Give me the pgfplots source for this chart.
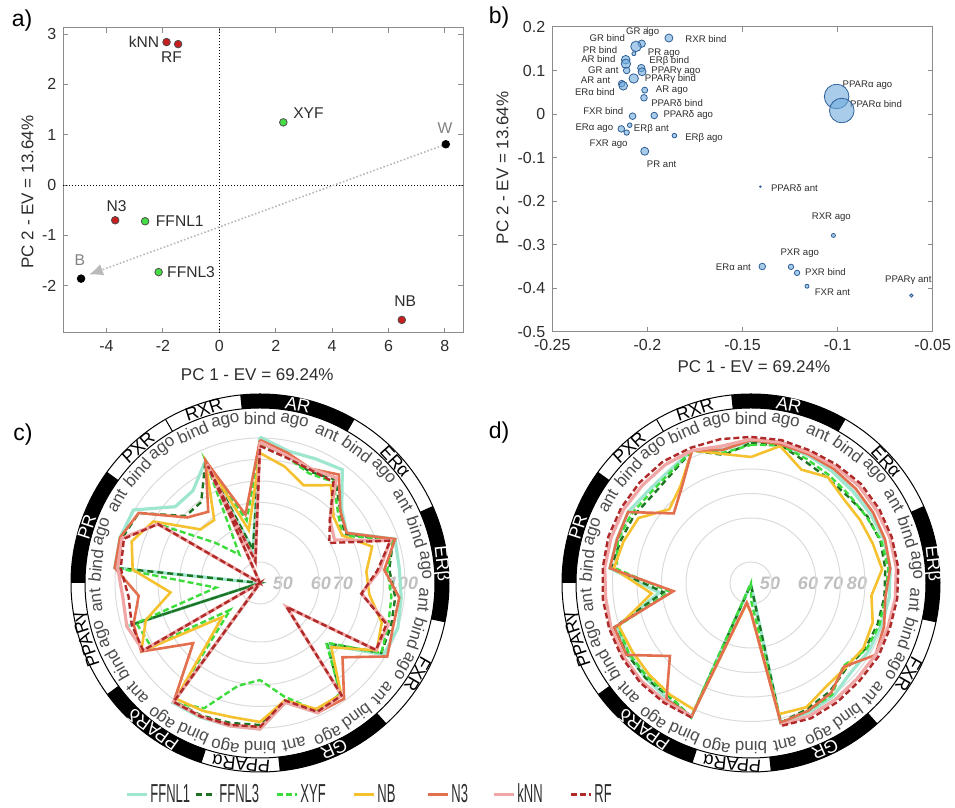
\documentclass[border=0pt]{standalone}
\usepackage{fontspec}
\setmainfont{Liberation Sans}
\usepackage{graphicx}
\usepackage{pgfplots}
\usepackage{pgfplotstable}
\pgfplotsset{compat=1.18}
\usepgfplotslibrary{polar}
\usetikzlibrary{arrows.meta}

\definecolor{cF1}{RGB}{158,230,207}
\definecolor{cF3}{RGB}{30,115,35}
\definecolor{cXY}{RGB}{60,220,60}
\definecolor{cNB}{RGB}{245,193,46}
\definecolor{cN3}{RGB}{226,112,78}
\definecolor{ckN}{RGB}{242,167,167}
\definecolor{cRF}{RGB}{176,42,42}
\definecolor{axgray}{RGB}{140,140,140}
\definecolor{txt}{RGB}{45,45,45}
\definecolor{bubfill}{RGB}{110,170,220}
\definecolor{bubedge}{RGB}{45,95,150}
\definecolor{ptred}{RGB}{200,30,30}
\definecolor{ptgreen}{RGB}{70,220,70}

\pgfplotstableread{
i F1 F3 XY NB N3 kN RF
0 100.5 97.7 96.7 93.0 99.1 98.1 96.3
1 95.3 93.0 92.6 87.9 94.4 93.0 92.1
2 95.8 89.3 88.4 82.3 90.7 90.7 90.2
3 97.7 92.1 90.7 88.8 94.9 93.0 90.7
4 83.7 82.8 81.4 78.6 82.8 76.3 76.3
5 79.1 78.1 76.7 76.7 79.1 72.6 69.8
6 98.6 97.7 97.7 87.4 98.6 96.3 96.3
7 97.7 93.0 92.1 82.3 90.7 88.4 87.4
8 98.6 95.8 94.0 83.7 97.7 80.0 80.0
9 100.0 96.7 95.3 92.1 97.7 95.3 94.4
10 99.1 97.7 97.7 95.3 100.9 94.9 94.9
11 75.8 74.4 74.0 77.2 84.2 53.9 53.9
12 96.3 96.3 96.3 96.7 99.1 97.2 97.2
13 98.6 97.7 97.7 96.7 98.6 98.6 98.1
14 89.3 88.4 86.5 88.4 89.3 89.3 88.4
15 100.5 98.6 77.7 97.2 100.0 100.5 99.5
16 100.5 99.1 81.4 96.3 100.0 100.5 100.0
17 100.9 100.0 96.3 97.7 100.5 100.5 100.5
18 101.4 100.5 101.4 99.1 100.9 100.9 100.9
19 40 40 55.0 57.9 74.4 40 40
20 40 40 91.2 96.3 96.3 95.3 95.3
21 97.7 94.4 93.0 88.4 94.4 97.7 95.3
22 40 40 56.1 74.4 89.3 96.7 94.0
23 100.5 100.0 100.0 92.1 100.5 99.1 97.7
24 101.0 100.0 100.0 95.3 101.0 100.0 99.1
25 100.5 97.7 87.4 89.8 97.7 87.4 87.4
26 85.6 79.1 60.5 69.8 78.1 40 40
27 85.6 79.1 53.7 68.8 73.5 40 40
28 94.9 94.9 94.9 94.9 94.9 93.0 92.1
29 53.4 53.4 62.3 58.7 65.1 50.3 50.3
30 100.5 97.7 96.7 93.0 99.1 98.1 96.3
}\radarc

\pgfplotstableread{
i F1 F3 XY NB N3
0 91.4 90.6 89.8 84.9 91.8
1 91.4 91.0 91.0 90.6 91.4
2 90.6 87.8 89.0 84.1 91.0
3 89.8 86.5 87.8 86.9 91.0
4 89.4 86.5 87.3 84.5 91.0
5 89.8 88.2 87.8 84.9 91.0
6 90.6 89.0 89.4 85.7 91.0
7 90.6 88.6 89.8 87.3 90.6
8 90.2 88.2 88.6 82.9 88.6
9 89.4 87.8 88.6 85.7 90.6
10 89.0 87.3 87.8 86.5 92.2
11 88.2 85.7 84.1 85.3 84.5
12 90.6 88.2 89.8 85.7 89.0
13 91.4 89.8 90.6 89.0 90.6
14 91.8 91.8 91.8 88.2 91.8
15 45.7 45.7 49.1 52.0 52.0
16 45.7 45.7 45.0 50.0 49.8
17 93.1 93.5 93.5 90.2 93.1
18 91.8 90.6 90.2 89.8 92.2
19 91.4 91.4 90.6 89.4 78.0
20 91.4 91.8 91.0 89.4 92.2
21 91.0 92.2 90.6 90.2 92.2
22 71.0 69.4 66.9 74.3 65.3
23 91.4 91.0 88.6 89.8 91.4
24 91.0 89.4 90.6 88.2 91.0
25 91.4 88.6 89.8 86.5 91.4
26 89.8 87.3 88.6 78.4 75.9
27 90.2 88.6 89.4 82.4 81.6
28 92.7 92.7 92.7 92.7 92.7
29 89.0 86.9 87.8 87.3 89.0
30 91.4 90.6 89.8 84.9 91.8
}\radard

% kNN and RF in panel d: no values for PPARalpha (i = 15, 16); path runs from i = 17 round to i = 14 (+30)
\pgfplotstableread{
i kN RF
17 93.1 93.5
18 93.1 93.9
19 93.5 94.3
20 93.5 94.3
21 93.5 94.3
22 93.1 94.3
23 93.5 94.3
24 93.5 94.7
25 93.5 94.7
26 93.1 94.7
27 93.1 94.7
28 92.7 93.9
29 90.6 93.5
30 92.2 93.1
31 92.2 93.1
32 91.8 92.7
33 92.2 93.1
34 92.7 93.9
35 92.7 93.9
36 93.1 93.9
37 93.1 93.9
38 92.7 93.5
39 92.2 93.1
40 92.2 93.5
41 91.8 93.1
42 92.2 93.5
43 92.7 93.9
44 92.7 93.1
}\radardo

\pgfplotstableread{
x y
-1.87 2.84
-1.46 2.80
-3.69 -0.70
6.47 -2.68
}\ptred
\pgfplotstableread{
x y
2.27 1.245
-2.63 -0.72
-2.15 -1.73
}\ptgreen
\pgfplotstableread{
x y
8.03 0.81
-4.90 -1.86
}\ptblack

\pgfplotstableread{
x y r
-0.1887 0.1747 4.0
-0.2030 0.1617 3.7
-0.2060 0.1555 5.3
-0.2071 0.1387 2.0
-0.2114 0.1249 4.3
-0.2113 0.1157 4.7
-0.2109 0.1003 3.3
-0.2032 0.1057 3.7
-0.2028 0.0973 4.0
-0.2072 0.0819 4.7
-0.2135 0.0700 3.3
-0.2127 0.0651 4.3
-0.2014 0.0551 3.0
-0.2018 0.0375 3.3
-0.2078 -0.0047 3.3
-0.1964 -0.0032 3.3
-0.2093 -0.0254 2.3
-0.2137 -0.0338 3.3
-0.2109 -0.0423 2.7
-0.1858 -0.0492 2.3
-0.2014 -0.0852 4.0
-0.1005 0.0405 12.3
-0.0978 0.0083 12.3
-0.1406 -0.1665 0.8
-0.1022 -0.2784 2.0
-0.1396 -0.3497 3.3
-0.1245 -0.3505 2.7
-0.1213 -0.3643 2.7
-0.1161 -0.3950 2.0
-0.0612 -0.4164 1.7
}\bubbles

\newcommand\legtxt[2]{\makebox[#1][l]{\scalebox{0.5}[1]{\fontsize{13}{13}\selectfont #2}}}

\newcommand\radarframe{%
  \foreach \sa/\sb in {96/60,24/-12,-48/-84,-108/-144,-180/-216}{%
    \fill[black] (\sa:87.5pt) arc[start angle=\sa,end angle=\sb,radius=87.5pt] -- (\sb:94.5pt) arc[start angle=\sb,end angle=\sa,radius=94.5pt] -- cycle;}
  \draw[line width=0.5pt] (0,0) circle[radius=87.5pt];
  \draw[line width=0.5pt] (0,0) circle[radius=94.5pt];
  \draw[line width=0.5pt] (120:87.5pt) -- (120:94.5pt);
  \foreach \lab [count=\k from 0] in {bind,ago,ant,bind,ago,ant,bind,ago,ant,bind,ago,ant,bind,ago,ant,bind,ago,bind,ago,ant,bind,ago,ant,bind,ago,ant,bind,ago,bind,ago}{%
    \node[font=\fontsize{8.5}{8.5}\selectfont, text=black!70, rotate={-12*\k}, inner sep=0pt] at ({90-12*\k}:82.5pt) {\lab};}
  \foreach \nm/\gt/\gc in {AR/12/white, ERα/48/black, ERβ/84/white, FXR/120/black, GR/156/white, PPARα/186/black, PPARδ/216/white, PPARγ/252/black, PR/288/white, PXR/318/black, RXR/342/black}{%
    \node[font=\fontsize{9}{9}\selectfont, text=\gc, rotate={-\gt}, inner sep=0pt] at ({90-\gt}:91pt) {\nm};}
}

\pgfplotsset{
  pcaaxis/.style={scale only axis, axis line style={axgray, line width=0.5pt},
    tick style={axgray, line width=0.5pt}, tick align=inside, major tick length=2.5pt,
    tick label style={font=\fontsize{8}{9}\selectfont, text=txt},
    label style={font=\fontsize{8.5}{10}\selectfont, text=txt},
    /pgf/number format/assume math mode=true, clip=false},
  radar/.style={scale only axis, width=188pt, height=188pt, ymin=0, ymax=188,
    xtick=\empty, yticklabels={}, ymajorgrids, major grid style={gray!28, line width=0.5pt},
    axis line style={draw=none}, major tick length=0pt,
    x filter/.expression={90-12*x}, clip=false},
}
\tikzset{
  blab/.style={font=\fontsize{4.8}{5}\selectfont, text=txt, inner sep=0pt},
  alab/.style={font=\fontsize{7.8}{8}\selectfont, text=txt, inner sep=0pt},
  radlab/.style={font=\fontsize{9}{9}\selectfont\bfseries\itshape, text=gray!50, inner sep=0pt},
}

\begin{document}
\begin{tikzpicture}[x=0.5pt,y=0.5pt]
\useasboundingbox (0,0) rectangle (955,808);

\node[font=\fontsize{11.5}{12}\selectfont] at (22,787) {a)};
\node[font=\fontsize{11.5}{12}\selectfont] at (499,790) {b)};
\node[font=\fontsize{11.5}{12}\selectfont] at (23,373) {c)};
\node[font=\fontsize{11.5}{12}\selectfont] at (499,375) {d)};

% ---------------- panel a
\begin{axis}[pcaaxis, at={(31.65pt,237.5pt)}, anchor=south west, width=200pt, height=152.5pt,
  xmin=-5.53, xmax=8.65, ymin=-2.94, ymax=3.12,
  xtick={-4,-2,0,2,4,6,8}, ytick={-2,-1,0,1,2,3},
  xlabel={PC 1 - EV = 69.24\%}, ylabel={PC 2 - EV = 13.64\%},
  xlabel style={at={(axis description cs:0.485,-0.138)}, anchor=center},
  ylabel style={at={(axis description cs:-0.0895,0.462)}, anchor=center},
]
\addplot[black, densely dotted, line width=0.5pt] coordinates {(0,-2.94) (0,3.12)};
\addplot[black, densely dotted, line width=0.5pt] coordinates {(-5.53,0) (8.65,0)};
\addplot[gray!55, densely dotted, line width=0.8pt, -{Latex[length=7pt,width=6pt]}] coordinates {(8.03,0.81) (-4.62,-1.78)};
\addplot[only marks, mark=*, mark size=1.9pt, mark options={fill=ptred, draw=black!70, line width=0.4pt}] table {\ptred};
\addplot[only marks, mark=*, mark size=1.9pt, mark options={fill=ptgreen, draw=black!70, line width=0.4pt}] table {\ptgreen};
\addplot[only marks, mark=*, mark size=1.9pt, mark options={fill=black, draw=black, line width=0.4pt}] table {\ptblack};
\node[alab] at (axis cs:-2.67,2.84) {kNN};
\node[alab] at (axis cs:-1.69,2.54) {RF};
\node[alab] at (axis cs:3.16,1.42) {XYF};
\node[alab, text=gray] at (axis cs:8.0,1.13) {W};
\node[alab] at (axis cs:-3.64,-0.42) {N3};
\node[alab] at (axis cs:-1.40,-0.71) {FFNL1};
\node[alab, text=gray] at (axis cs:-4.94,-1.485) {B};
\node[alab] at (axis cs:-1.0,-1.74) {FFNL3};
\node[alab] at (axis cs:6.59,-2.31) {NB};
\end{axis}

% ---------------- panel b
\begin{axis}[pcaaxis, at={(276.15pt,238pt)}, anchor=south west, width=190.2pt, height=152.5pt,
  xmin=-0.25, xmax=-0.05, ymin=-0.5, ymax=0.2,
  xtick={-0.25,-0.2,-0.15,-0.1,-0.05}, xticklabels={-0.25,-0.2,-0.15,-0.1,-0.05},
  ytick={-0.5,-0.4,-0.3,-0.2,-0.1,0,0.1,0.2}, yticklabels={-0.5,-0.4,-0.3,-0.2,-0.1,0,0.1,0.2},
  xlabel={PC 1 - EV = 69.24\%}, ylabel={PC 2 - EV = 13.64\%},
  xlabel style={at={(axis description cs:0.53,-0.115)}, anchor=center},
  ylabel style={at={(axis description cs:-0.131,0.538)}, anchor=center},
]
\addplot[scatter, only marks, mark=*, fill opacity=0.6, line width=0.4pt,
  scatter/use mapped color={draw=bubedge, fill=bubfill},
  visualization depends on={0.5*\thisrow{r} \as \rr},
  scatter/@pre marker code/.append style={/tikz/mark size=\rr}]
  table[x=x,y=y] {\bubbles};
\node[blab] at (axis cs:-0.2211,0.1747) {GR bind};
\node[blab] at (axis cs:-0.2025,0.1885) {GR ago};
\node[blab] at (axis cs:-0.1692,0.1732) {RXR bind};
\node[blab] at (axis cs:-0.2249,0.1463) {PR bind};
\node[blab] at (axis cs:-0.1913,0.1402) {PR ago};
\node[blab] at (axis cs:-0.2258,0.1264) {AR bind};
\node[blab] at (axis cs:-0.1885,0.1210) {ERβ bind};
\node[blab] at (axis cs:-0.2232,0.1003) {GR ant};
\node[blab] at (axis cs:-0.1850,0.0996) {PPARγ ago};
\node[blab] at (axis cs:-0.1879,0.0804) {PPARγ bind};
\node[blab] at (axis cs:-0.2272,0.0789) {AR ant};
\node[blab] at (axis cs:-0.2276,0.0505) {ERα bind};
\node[blab] at (axis cs:-0.1871,0.0543) {AR ago};
\node[blab] at (axis cs:-0.1844,0.0260) {PPARδ bind};
\node[blab] at (axis cs:-0.2232,0.0060) {FXR bind};
\node[blab] at (axis cs:-0.1785,-0.0016) {PPARδ ago};
\node[blab] at (axis cs:-0.2279,-0.0315) {ERα ago};
\node[blab] at (axis cs:-0.1979,-0.0346) {ERβ ant};
\node[blab] at (axis cs:-0.1702,-0.0538) {ERβ ago};
\node[blab] at (axis cs:-0.2204,-0.0699) {FXR ago};
\node[blab] at (axis cs:-0.1925,-0.1151) {PR ant};
\node[blab] at (axis cs:-0.0843,0.0666) {PPARα ago};
\node[blab] at (axis cs:-0.0798,0.0237) {PPARα bind};
\node[blab] at (axis cs:-0.1227,-0.1688) {PPARδ ant};
\node[blab] at (axis cs:-0.1033,-0.2370) {RXR ago};
\node[blab] at (axis cs:-0.1199,-0.3191) {PXR ago};
\node[blab] at (axis cs:-0.1064,-0.3635) {PXR bind};
\node[blab] at (axis cs:-0.1548,-0.3505) {ERα ant};
\node[blab] at (axis cs:-0.1027,-0.4095) {FXR ant};
\node[blab] at (axis cs:-0.0628,-0.3812) {PPARγ ant};
\end{axis}

% ---------------- panel c
\begin{scope}[shift={(260,225)}]
\radarframe
\end{scope}
\node[radlab] at (283,225) {50};
\node[radlab] at (321,225) {60};
\node[radlab] at (343,225) {70};
\node[radlab] at (403,225) {100};
\begin{polaraxis}[radar, at={(130pt,112.5pt)}, anchor=origin,
  ytick={21,59,80.5,102,123.5,145},
  y filter/.expression={ifthenelse(y<60, max(21+(y-50)*3.8,0), 59+(y-60)*2.15)},
  legend style={at={(axis description cs:0.141,-0.0638)}, anchor=west, draw=none, fill=none,
    inner sep=0pt, legend columns=7, text=txt, nodes={inner sep=1pt},
    /tikz/every even column/.append style={column sep=0pt}},
  legend image code/.code={\draw[#1, line width=1.5pt] (0pt,0pt) -- (10pt,0pt);},
]
\addplot[mark=none, cF1, line width=1.6pt] table[x=i,y=F1]{\radarc};
\addlegendentry{\legtxt{21pt}{FFNL1}}
\addplot[mark=none, cF3, line width=1.2pt, dash pattern=on 3pt off 2pt] table[x=i,y=F3]{\radarc};
\addlegendentry{\legtxt{27pt}{FFNL3}}
\addplot[mark=none, cXY, line width=1.2pt, dash pattern=on 3pt off 1.5pt] table[x=i,y=XY]{\radarc};
\addlegendentry{\legtxt{25pt}{XYF}}
\addplot[mark=none, cNB, line width=1.3pt] table[x=i,y=NB]{\radarc};
\addlegendentry{\legtxt{23.5pt}{NB}}
\addplot[mark=none, cN3, line width=1.3pt] table[x=i,y=N3]{\radarc};
\addlegendentry{\legtxt{19.5pt}{N3}}
\addplot[mark=none, ckN, line width=1.6pt] table[x=i,y=kN]{\radarc};
\addlegendentry{\legtxt{25pt}{kNN}}
\addplot[mark=none, cRF, line width=1.2pt, dash pattern=on 3pt off 1.5pt] table[x=i,y=RF]{\radarc};
\addlegendentry{\legtxt{12pt}{RF}}
\end{polaraxis}

% ---------------- panel d
\begin{scope}[shift={(751,225)}]
\radarframe
\end{scope}
\node[radlab] at (770,225) {50};
\node[radlab] at (808,225) {60};
\node[radlab] at (833,225) {70};
\node[radlab] at (857,225) {80};
\begin{polaraxis}[radar, at={(375.5pt,112.5pt)}, anchor=origin,
  ytick={21,65,89.5,114,138.5},
  y filter/.expression={ifthenelse(y<60, max(21+(y-50)*4.4,0), 65+(y-60)*2.45)},
]
\addplot[mark=none, cF1, line width=1.6pt] table[x=i,y=F1]{\radard};
\addplot[mark=none, cF3, line width=1.2pt, dash pattern=on 3pt off 2pt] table[x=i,y=F3]{\radard};
\addplot[mark=none, cXY, line width=1.2pt, dash pattern=on 3pt off 1.5pt] table[x=i,y=XY]{\radard};
\addplot[mark=none, cNB, line width=1.3pt] table[x=i,y=NB]{\radard};
\addplot[mark=none, cN3, line width=1.3pt] table[x=i,y=N3]{\radard};
\addplot[mark=none, ckN, line width=1.6pt] table[x=i,y=kN]{\radardo};
\addplot[mark=none, cRF, line width=1.2pt, dash pattern=on 3pt off 1.5pt] table[x=i,y=RF]{\radardo};
\end{polaraxis}
\end{tikzpicture}
\end{document}
